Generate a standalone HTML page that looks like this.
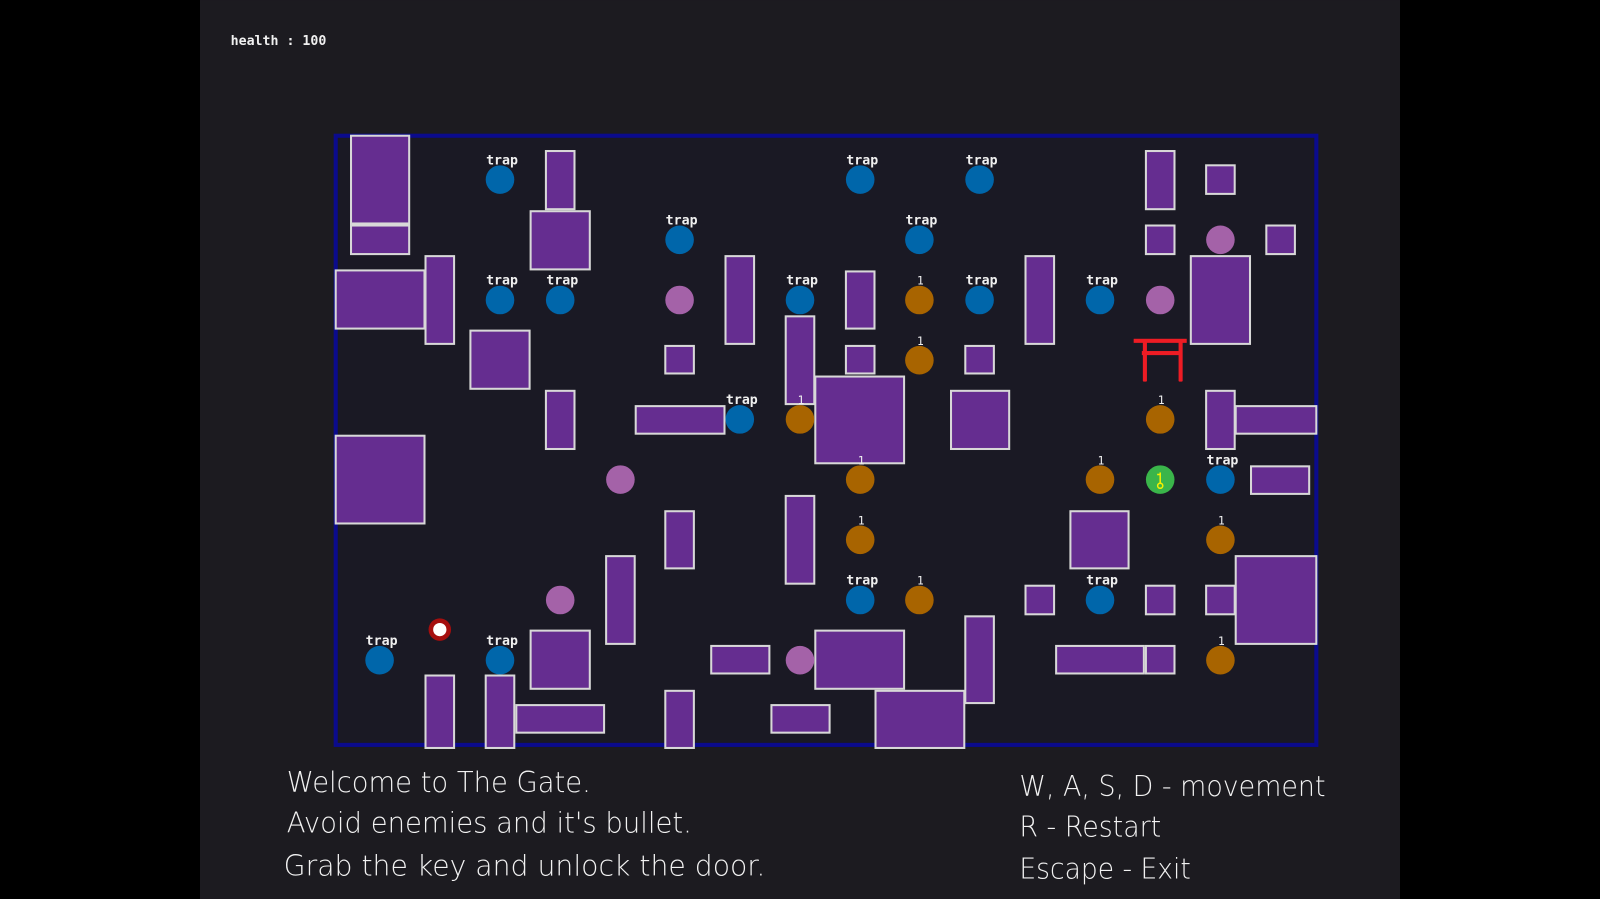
<!DOCTYPE html>
<html><head><meta charset="utf-8"><style>
html,body{margin:0;padding:0;background:#000;overflow:hidden}
svg{display:block}
.w{fill:#652d90;stroke:#d8d8d8;stroke-width:2}
.t{fill:#0066aa}.p{fill:#a462a8}.o{fill:#a86400}
.lb{font-family:"DejaVu Sans Mono","Liberation Mono",monospace;font-weight:bold;font-size:13px;fill:#f0f0f0;text-anchor:middle}
.one{font-family:"DejaVu Sans Mono","Liberation Mono",monospace;font-size:11px;fill:#f0f0f0;text-anchor:middle}
.big{font-family:"DejaVu Sans","Liberation Sans",sans-serif;font-weight:200;font-size:28px;fill:#f2f2f2}
</style></head><body>
<svg width="1600" height="899" viewBox="0 0 1568 881" xmlns="http://www.w3.org/2000/svg">
<rect x="0" y="0" width="1568" height="881" fill="#000"/>
<rect x="196" y="0" width="1176" height="881" fill="#1c1b20"/>
<text x="226" y="44" font-family="DejaVu Sans Mono,Liberation Mono,monospace" font-weight="bold" font-size="13" fill="#f0f0f0">health : 100</text>
<rect x="329" y="133" width="961" height="597" fill="#1a1924" stroke="#0b0b8c" stroke-width="4"/>
<g>
<rect class="w" x="344" y="133" width="57" height="86"/>
<rect class="w" x="344" y="221" width="57" height="28"/>
<rect class="w" x="329" y="265" width="87" height="57"/>
<rect class="w" x="417" y="251" width="28" height="86"/>
<rect class="w" x="535" y="148" width="28" height="57"/>
<rect class="w" x="520" y="207" width="58" height="57"/>
<rect class="w" x="461" y="324" width="58" height="57"/>
<rect class="w" x="711" y="251" width="28" height="86"/>
<rect class="w" x="652" y="339" width="28" height="27"/>
<rect class="w" x="535" y="383" width="28" height="57"/>
<rect class="w" x="623" y="398" width="87" height="27"/>
<rect class="w" x="770" y="310" width="28" height="86"/>
<rect class="w" x="829" y="266" width="28" height="56"/>
<rect class="w" x="829" y="339" width="28" height="27"/>
<rect class="w" x="799" y="369" width="87" height="85"/>
<rect class="w" x="946" y="339" width="28" height="27"/>
<rect class="w" x="932" y="383" width="57" height="57"/>
<rect class="w" x="1005" y="251" width="28" height="86"/>
<rect class="w" x="1123" y="148" width="28" height="57"/>
<rect class="w" x="1182" y="162" width="28" height="28"/>
<rect class="w" x="1123" y="221" width="28" height="28"/>
<rect class="w" x="1241" y="221" width="28" height="28"/>
<rect class="w" x="1167" y="251" width="58" height="86"/>
<rect class="w" x="1182" y="383" width="28" height="57"/>
<rect class="w" x="1211" y="398" width="79" height="27"/>
<rect class="w" x="1226" y="457" width="57" height="27"/>
<rect class="w" x="329" y="427" width="87" height="86"/>
<rect class="w" x="652" y="501" width="28" height="56"/>
<rect class="w" x="770" y="486" width="28" height="86"/>
<rect class="w" x="594" y="545" width="28" height="86"/>
<rect class="w" x="1049" y="501" width="57" height="56"/>
<rect class="w" x="1005" y="574" width="28" height="28"/>
<rect class="w" x="1123" y="574" width="28" height="28"/>
<rect class="w" x="1182" y="574" width="28" height="28"/>
<rect class="w" x="1211" y="545" width="79" height="86"/>
<rect class="w" x="520" y="618" width="58" height="57"/>
<rect class="w" x="697" y="633" width="57" height="27"/>
<rect class="w" x="799" y="618" width="87" height="57"/>
<rect class="w" x="946" y="604" width="28" height="85"/>
<rect class="w" x="1035" y="633" width="86" height="27"/>
<rect class="w" x="1123" y="633" width="28" height="27"/>
<rect class="w" x="417" y="662" width="28" height="71"/>
<rect class="w" x="476" y="662" width="28" height="71"/>
<rect class="w" x="506" y="691" width="86" height="27"/>
<rect class="w" x="652" y="677" width="28" height="56"/>
<rect class="w" x="756" y="691" width="57" height="27"/>
<rect class="w" x="858" y="677" width="87" height="56"/>
</g>
<g>
<circle class="t" cx="490" cy="176" r="14"/><text class="lb" x="492" y="161">trap</text>
<circle class="t" cx="843" cy="176" r="14"/><text class="lb" x="845" y="161">trap</text>
<circle class="t" cx="960" cy="176" r="14"/><text class="lb" x="962" y="161">trap</text>
<circle class="t" cx="666" cy="235" r="14"/><text class="lb" x="668" y="220">trap</text>
<circle class="t" cx="901" cy="235" r="14"/><text class="lb" x="903" y="220">trap</text>
<circle class="t" cx="490" cy="294" r="14"/><text class="lb" x="492" y="279">trap</text>
<circle class="t" cx="549" cy="294" r="14"/><text class="lb" x="551" y="279">trap</text>
<circle class="t" cx="784" cy="294" r="14"/><text class="lb" x="786" y="279">trap</text>
<circle class="t" cx="960" cy="294" r="14"/><text class="lb" x="962" y="279">trap</text>
<circle class="t" cx="1078" cy="294" r="14"/><text class="lb" x="1080" y="279">trap</text>
<circle class="t" cx="725" cy="411" r="14"/><text class="lb" x="727" y="396">trap</text>
<circle class="t" cx="1196" cy="470" r="14"/><text class="lb" x="1198" y="455">trap</text>
<circle class="t" cx="843" cy="588" r="14"/><text class="lb" x="845" y="573">trap</text>
<circle class="t" cx="1078" cy="588" r="14"/><text class="lb" x="1080" y="573">trap</text>
<circle class="t" cx="372" cy="647" r="14"/><text class="lb" x="374" y="632">trap</text>
<circle class="t" cx="490" cy="647" r="14"/><text class="lb" x="492" y="632">trap</text>
</g>
<g>
<circle class="p" cx="1196" cy="235" r="14"/>
<circle class="p" cx="666" cy="294" r="14"/>
<circle class="p" cx="1137" cy="294" r="14"/>
<circle class="p" cx="608" cy="470" r="14"/>
<circle class="p" cx="549" cy="588" r="14"/>
<circle class="p" cx="784" cy="647" r="14"/>
</g>
<g>
<circle class="o" cx="901" cy="294" r="14"/><text class="one" x="902" y="279">1</text>
<circle class="o" cx="901" cy="353" r="14"/><text class="one" x="902" y="338">1</text>
<circle class="o" cx="784" cy="411" r="14"/><text class="one" x="785" y="396">1</text>
<circle class="o" cx="1137" cy="411" r="14"/><text class="one" x="1138" y="396">1</text>
<circle class="o" cx="843" cy="470" r="14"/><text class="one" x="844" y="455">1</text>
<circle class="o" cx="1078" cy="470" r="14"/><text class="one" x="1079" y="455">1</text>
<circle class="o" cx="843" cy="529" r="14"/><text class="one" x="844" y="514">1</text>
<circle class="o" cx="1196" cy="529" r="14"/><text class="one" x="1197" y="514">1</text>
<circle class="o" cx="901" cy="588" r="14"/><text class="one" x="902" y="573">1</text>
<circle class="o" cx="1196" cy="647" r="14"/><text class="one" x="1197" y="632">1</text>
</g>
<circle cx="1137" cy="470" r="14" fill="#3ab54a"/>
<g stroke="#f4f000" stroke-width="1.5" fill="none"><line x1="1137" y1="463" x2="1137" y2="473"/><line x1="1134" y1="465" x2="1137" y2="465"/><circle cx="1137" cy="476" r="2.5"/></g>
<circle cx="431" cy="617" r="11" fill="#a50e0e"/>
<circle cx="431" cy="617" r="6.5" fill="#fff"/>
<g fill="#ee1c24">
<rect x="1111" y="332" width="52" height="4"/>
<rect x="1119" y="344" width="37" height="4"/>
<rect x="1120" y="334" width="4" height="40" rx="1"/>
<rect x="1155" y="334" width="4" height="40" rx="1"/>
</g>
<text class="big" x="281" y="776" textLength="298" lengthAdjust="spacingAndGlyphs">Welcome to The Gate.</text>
<text class="big" x="281" y="816" textLength="397" lengthAdjust="spacingAndGlyphs">Avoid enemies and it's bullet.</text>
<text class="big" x="278" y="858" textLength="472" lengthAdjust="spacingAndGlyphs">Grab the key  and unlock the door.</text>
<text class="big" x="999" y="780" textLength="300" lengthAdjust="spacingAndGlyphs">W, A, S, D - movement</text>
<text class="big" x="999" y="820" textLength="139" lengthAdjust="spacingAndGlyphs">R - Restart</text>
<text class="big" x="999" y="861" textLength="168" lengthAdjust="spacingAndGlyphs">Escape - Exit</text>
</svg>
</body></html>
